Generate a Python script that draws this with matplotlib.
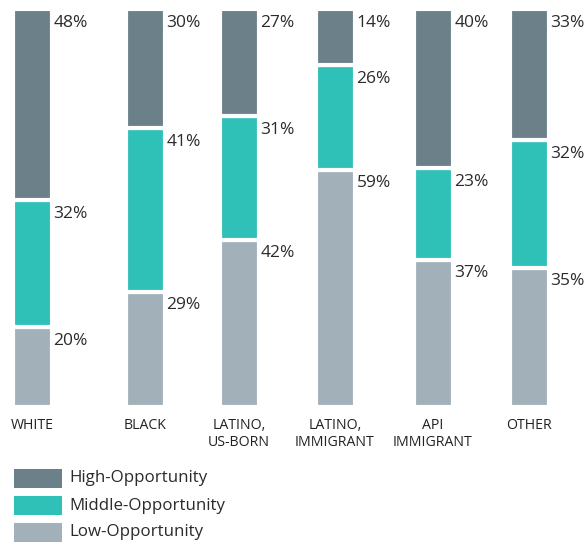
import matplotlib
matplotlib.use("Agg")
import matplotlib.pyplot as plt
from matplotlib.patches import Rectangle

plt.rcParams["font.family"] = ["Open Sans", "DejaVu Sans"]

# data
groups = ["WHITE", "BLACK", "LATINO,\nUS-BORN", "LATINO,\nIMMIGRANT", "API\nIMMIGRANT", "OTHER"]
low = [20, 29, 42, 59, 37, 35]
middle = [32, 41, 31, 26, 23, 32]
high = [48, 30, 27, 14, 40, 33]
series_names = ["High-Opportunity", "Middle-Opportunity", "Low-Opportunity"]

# layout (pixel units on a 585 px wide axis)
centers = [32, 145, 239, 335, 433, 529]
bar_w = 39
c_high, c_mid, c_low = "#6b8089", "#2fc0b7", "#a1b0b9"
txt = "#2b2b2b"

fig = plt.figure(figsize=(5.85, 5.43), dpi=100)
ax = fig.add_axes([0, 136 / 543, 1, 398 / 543])
ax.set_xlim(0, 585)
ax.set_ylim(0, 100)

# stack each bar as share of its own total so every bar fills the column
totals = [l + m + h for l, m, h in zip(low, middle, high)]
low_s = [100 * v / t for v, t in zip(low, totals)]
mid_s = [100 * v / t for v, t in zip(middle, totals)]
high_s = [100 * v / t for v, t in zip(high, totals)]
mid_bottom = low_s
high_bottom = [l + m for l, m in zip(low_s, mid_s)]

for shares, vals, bottoms, col in [(low_s, low, [0] * 6, c_low),
                                   (mid_s, middle, mid_bottom, c_mid),
                                   (high_s, high, high_bottom, c_high)]:
    ax.bar(centers, shares, bottom=bottoms, width=bar_w, color=col, edgecolor="white", linewidth=3)
    for x, s, v, b in zip(centers, shares, vals, bottoms):
        ax.annotate(f"{v}%", (x + bar_w / 2, b + s), xytext=(1.5, -4), textcoords="offset points",
                    ha="left", va="top", fontsize=12.5, color=txt)

ax.set_xticks(centers)
ax.set_xticklabels(groups, fontsize=10.2, color="#222222", linespacing=1.2)
ax.tick_params(axis="x", length=0, pad=8)
ax.set_yticks([])
for s in ax.spines.values():
    s.set_visible(False)

# legend drawn in figure pixels
W, H = 585, 543
for i, (name, col) in enumerate(zip(series_names, (c_high, c_mid, c_low))):
    top = 469 + 27 * i
    fig.patches.append(Rectangle((14 / W, (H - top - 19) / H), 48 / W, 19 / H,
                                 transform=fig.transFigure, facecolor=col, edgecolor="none"))
    fig.text(69 / W, (H - top - 9.5) / H, name, ha="left", va="center", fontsize=12.2, color=txt)

fig.savefig("out.png", dpi=100)
